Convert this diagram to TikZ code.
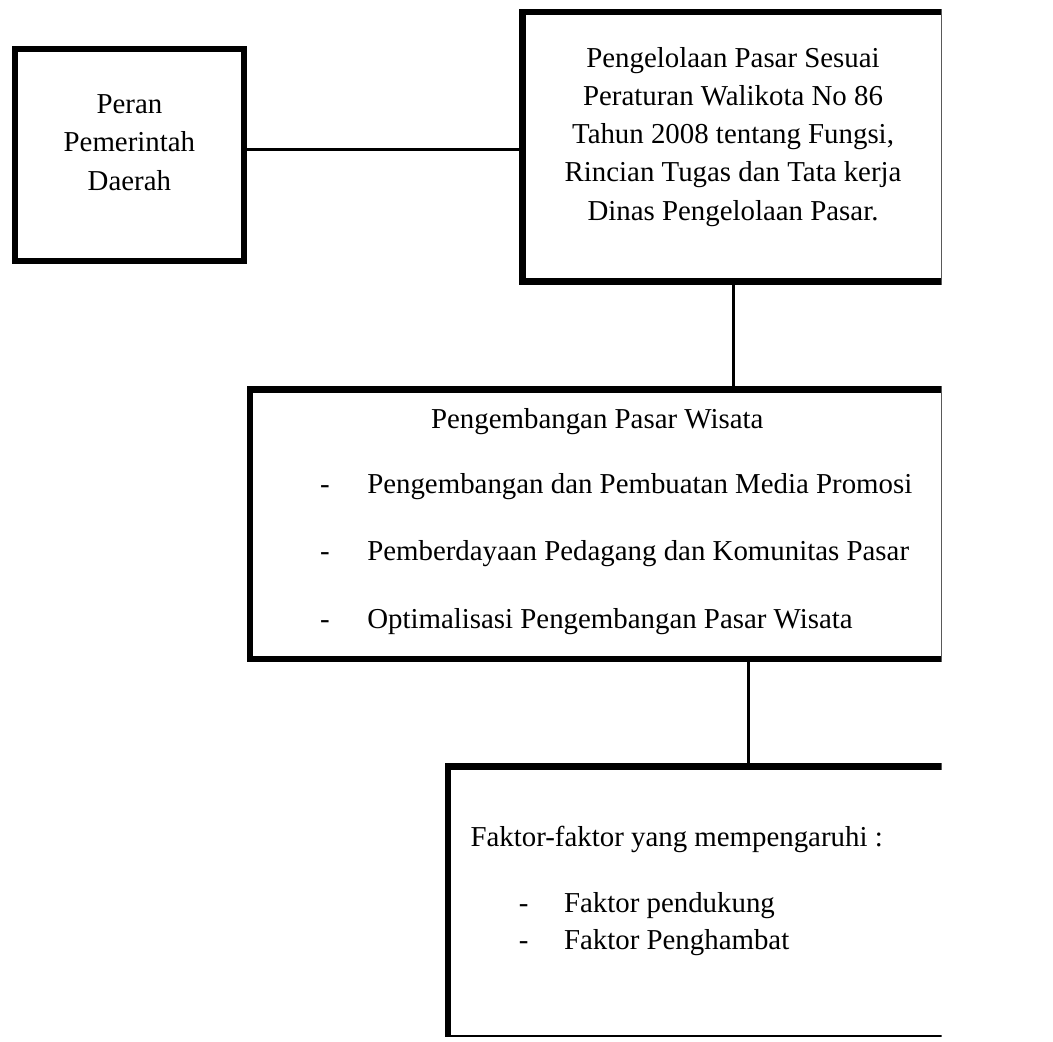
\documentclass[tikz,border=0pt]{standalone}
\usepackage{fontspec}
\setmainfont{Liberation Serif}
\usepackage{tikz}

\tikzset{
	kotak/.style={draw, rectangle, line width=4.8pt, inner sep=0pt},
	garis/.style={line width=2.5pt},
	teks/.style={inner sep=0pt, font=\rmfamily\fontsize{22}{29.2}\selectfont},
}

\begin{document}
\begin{tikzpicture}[x=0.75pt, y=-0.75pt]
			{\useasboundingbox (0,0) rectangle (957,1053);}
			{\clip (0,0) rectangle (957,1053);}
			{\node[kotak, minimum width=174.75pt, minimum height=161.25pt] (peran) at (131.5,157.5) {};}
			{\node[kotak, minimum width=321.75pt, minimum height=205.5pt] (dinas) at (745.5,149) {};}
			{\node[kotak, minimum width=529.5pt, minimum height=205.5pt] (wisata) at (607,533) {};}
			{\node[kotak, minimum width=459pt, minimum height=207pt] (faktor) at (761,917) {};}
			{\node[teks, align=center] (peranteks) at (131.5,145) {Peran\\Pemerintah\\Daerah};}
			{\node[teks, align=center] (dinasteks) at (745,139) {Pengelolaan Pasar Sesuai\\Peraturan Walikota No 86\\Tahun 2008 tentang Fungsi,\\Rincian Tugas dan Tata kerja\\Dinas Pengelolaan Pasar.};}
			{\node[teks, anchor=base] (wisatajudul) at (607,436) {Pengembangan Pasar Wisata};}
			{\node[teks, anchor=base west] (wisata1) at (325,502) {\makebox[36pt][l]{-}Pengembangan dan Pembuatan Media Promosi};}
			{\node[teks, anchor=base west] (wisata2) at (325,570) {\makebox[36pt][l]{-}Pemberdayaan Pedagang dan Komunitas Pasar};}
			{\node[teks, anchor=base west] (wisata3) at (325,639) {\makebox[36pt][l]{-}Optimalisasi Pengembangan Pasar Wisata};}
			{\node[teks, anchor=base west] (faktorjudul) at (478,860) {Faktor-faktor yang mempengaruhi :};}
			{\node[teks, anchor=base west] (faktor1) at (527,927) {\makebox[34.5pt][l]{-}Faktor pendukung};}
			{\node[teks, anchor=base west] (faktor2) at (527,965) {\makebox[34.5pt][l]{-}Faktor Penghambat};}
			{\draw[garis] ([yshift=4pt]peran.east) -- ([yshift=4pt]peran.east -| dinas.west);}
			{\draw[garis] (dinas.south) -- (dinas.south |- wisata.north);}
			{\draw[garis] (wisata.south -| faktor.north) -- (faktor.north);}
		\end{tikzpicture}
\end{document}
